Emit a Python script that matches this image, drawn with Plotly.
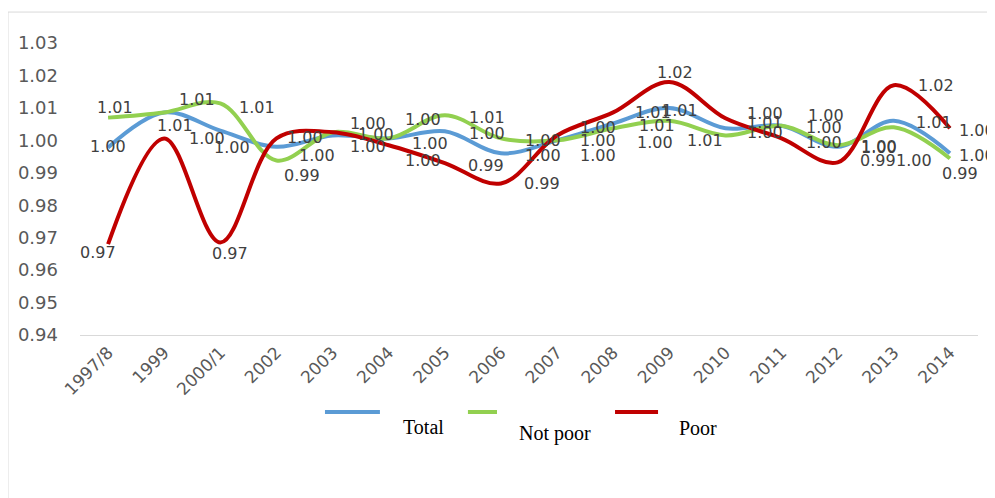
import plotly.graph_objects as go

YEARS = ["1997/8", "1999", "2000/1", "2002", "2003", "2004", "2005", "2006",
         "2007", "2008", "2009", "2010", "2011", "2012", "2013", "2014"]

TOTAL = [0.9978, 1.0086, 1.0030, 0.9980, 1.0015, 1.0006, 1.0028, 0.9960,
         1.0000, 1.0052, 1.0100, 1.0037, 1.0045, 0.9980, 1.0060, 0.9960]
NOT_POOR = [1.0070, 1.0086, 1.0114, 0.9938, 1.0025, 1.0006, 1.0077, 1.0006,
            1.0000, 1.0037, 1.0060, 1.0015, 1.0045, 0.9985, 1.0040, 0.9944]
POOR = [0.9680, 1.0006, 0.9685, 1.0006, 1.0025, 0.9985, 0.9930, 0.9867,
        1.0015, 1.0086, 1.0180, 1.0068, 1.0006, 0.9932, 1.0170, 1.0037]

# label offsets in px (dx right, dy down) - labels sit right of the points like in the original
TOTAL_OFF = [(0, -1), (11, 13), (12, 17), (41, 9), (43, -1), (41, 5), (42, 2), (42, 2),
             (41, 0), (44, 2), (11, 3), (40, -15), (44, -10), (41, 0), (40, 2), (27, 2)]
NOT_POOR_OFF = [(7, -10), (33, -13), (37, 4), (26, 15), (35, -9), (34, -19), (42, 2), (42, 2),
                (41, 15), (42, 14), (36, 20), (40, -3), (42, 2), (41, 2), (20, 33), (10, 15)]
POOR_OFF = [(-10, 8), (43, 0), (10, 11), (29, -1), (35, 14), (34, 15), (41, 2), (41, 0),
            (41, -8), (40, 0), (6, -9), (40, 4), (42, 4), (40, -2), (42, 0), (27, 2)]

SERIES = [
    ("Total", TOTAL, "#5B9BD5", TOTAL_OFF),
    ("Not poor", NOT_POOR, "#92D050", NOT_POOR_OFF),
    ("Poor", POOR, "#C00000", POOR_OFF),
]

fig = go.Figure()
annotations = []
for name, vals, color, offs in SERIES:
    fig.add_trace(go.Scatter(
        x=YEARS, y=vals, name=name, mode="lines",
        line=dict(color=color, width=4, shape="spline", smoothing=1.0),
        showlegend=False,
    ))
    # category index as x, otherwise "2002" etc. would be read as numbers
    for i, (v, (dx, dy)) in enumerate(zip(vals, offs)):
        annotations.append(dict(
            x=i, y=v, text=f"{v:.2f}", showarrow=False,
            xshift=dx, yshift=-dy, xanchor="center", yanchor="middle",
            font=dict(family="DejaVu Sans", size=16, color="#404040"),
        ))

# hand-made legend (lines with captions set below them, as in the source)
legend_items = [
    ("Total", "#5B9BD5", 0.2728, 0.334, 0.383, -0.315),
    ("Not poor", "#92D050", 0.432, 0.4644, 0.529, -0.336),
    ("Poor", "#C00000", 0.5958, 0.6437, 0.688, -0.318),
]
shapes = [dict(type="rect", xref="paper", yref="paper", x0=-0.0802, x1=1.2, y0=-1.0, y1=1.106,
               line=dict(color="#d9d9d9", width=1), fillcolor="rgba(0,0,0,0)", layer="below")]
for name, color, x0, x1, tx, ty in legend_items:
    shapes.append(dict(type="line", xref="paper", yref="paper", x0=x0, x1=x1, y0=-0.2637, y1=-0.2637,
                       line=dict(color=color, width=4)))
    annotations.append(dict(xref="paper", yref="paper", x=tx, y=ty, text=name, showarrow=False,
                            xanchor="center", yanchor="middle",
                            font=dict(family="Liberation Serif", size=20, color="#000000")))

# page body has an 8px margin, so the figure is offset by 8px
fig.update_layout(
    width=995, height=498,
    margin=dict(l=72, r=25, t=35, b=171),
    plot_bgcolor="white", paper_bgcolor="white",
    font=dict(family="DejaVu Sans", size=16, color="#595959"),
    xaxis=dict(type="category", range=[-0.5, 15.5], tickangle=-45, showgrid=False,
               showline=True, linecolor="#d9d9d9", linewidth=1, ticks="", automargin=False,
               tickfont=dict(size=17, color="#595959")),
    yaxis=dict(range=[0.94, 1.03], dtick=0.01, tickformat=".2f", showgrid=False,
               zeroline=False, showline=False, ticks="", automargin=False,
               ticklabelstandoff=21,
               tickfont=dict(size=18, color="#595959")),
    shapes=shapes,
    annotations=annotations,
    showlegend=False,
)

fig.write_html("out.html")
